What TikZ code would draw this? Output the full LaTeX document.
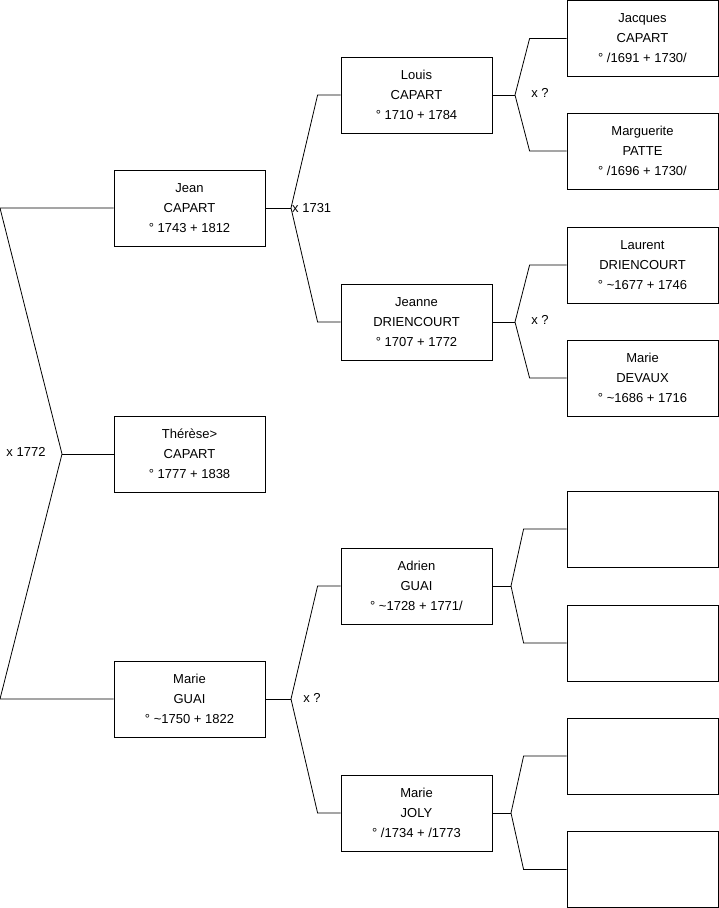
\documentclass[tikz,border=0pt]{standalone}
\usepackage{fontspec}
\setmainfont{Liberation Sans}
\usetikzlibrary{positioning}

\tikzset{
	person/.style={draw, line width=0.8pt, minimum width=151pt, minimum height=76pt, inner sep=0pt, align=center, font=\fontsize{13}{20}\selectfont},
	link/.style={line width=0.8pt},
	mariage/.style={font=\fontsize{13}{15}\selectfont, inner sep=1pt}
}

\begin{document}
\begin{tikzpicture}[x=1pt, y=-1pt]
		\useasboundingbox (0,0) rectangle (719,908);

		% generation 1 et 2
		\draw (189.5,208) node[person] (jean)    {Jean\\CAPART\\° 1743 + 1812};
		\draw (189.5,454) node[person] (therese) {Thérèse>\\CAPART\\° 1777 + 1838};
		\draw (189.5,699) node[person] (marieg)  {Marie\\GUAI\\° \textasciitilde1750 + 1822};

		% generation 3
		\draw (416.5,95)  node[person] (louis)  {Louis\\CAPART\\° 1710 + 1784};
		\draw (416.5,322) node[person] (jeanne) {Jeanne\\DRIENCOURT\\° 1707 + 1772};
		\draw (416.5,586) node[person] (adrien) {Adrien\\GUAI\\° \textasciitilde1728 + 1771/};
		\draw (416.5,813) node[person] (joly)   {Marie\\JOLY\\° /1734 + /1773};

		% generation 4
		\draw (642.5,38.5) node[person] (jacques)    {Jacques\\CAPART\\° /1691 + 1730/};
		\draw (642.5,151)  node[person] (marguerite) {Marguerite\\PATTE\\° /1696 + 1730/};
		\draw (642.5,265)  node[person] (laurent)    {Laurent\\DRIENCOURT\\° \textasciitilde1677 + 1746};
		\draw (642.5,378)  node[person] (devaux)     {Marie\\DEVAUX\\° \textasciitilde1686 + 1716};
		\draw (642.5,529)   node[person] (e1) {};
		\draw (642.5,643)   node[person] (e2) {};
		\draw (642.5,756)   node[person] (e3) {};
		\draw (642.5,869.5) node[person] (e4) {};

		% mariages
		\coordinate (t0) at (0,208);
		\coordinate (b0) at (0,699);
		\coordinate (m0) at (62,454);
		\coordinate (m1) at (291,208);
		\coordinate (m2) at (291,699);
		\coordinate (m3) at (515,95);
		\coordinate (m4) at (515,322);
		\coordinate (m5) at (511,586);
		\coordinate (m6) at (511,813);

		\draw[link] (jean.west) -- (t0) -- (m0) -- (b0) -- (marieg.west);
		\draw[link] (m0) -- (therese.west);
		\draw[link] (jean.east) -- (m1);
		\draw[link] (louis.west) -- ++(-23,0) -- (m1) -- ([xshift=-23]jeanne.west) -- (jeanne.west);
		\draw[link] (marieg.east) -- (m2);
		\draw[link] (adrien.west) -- ++(-23,0) -- (m2) -- ([xshift=-23]joly.west) -- (joly.west);
		\draw[link] (louis.east) -- (m3);
		\draw[link] (jacques.west) -- ++(-37,0) -- (m3) -- ([xshift=-37]marguerite.west) -- (marguerite.west);
		\draw[link] (jeanne.east) -- (m4);
		\draw[link] (laurent.west) -- ++(-37,0) -- (m4) -- ([xshift=-37]devaux.west) -- (devaux.west);
		\draw[link] (adrien.east) -- (m5);
		\draw[link] (e1.west) -- ++(-43,0) -- (m5) -- ([xshift=-43]e2.west) -- (e2.west);
		\draw[link] (joly.east) -- (m6);
		\draw[link] (e3.west) -- ++(-43,0) -- (m6) -- ([xshift=-43]e4.west) -- (e4.west);

		\node[mariage] (x0) at (26,452) {x 1772};
		\node[mariage, right] (x1) at (m1) {x 1731};
		\node[mariage] (x2) at (312,698) {x ?};
		\node[mariage] (x3) at (540,93) {x ?};
		\node[mariage] (x4) at (540,320) {x ?};
\end{tikzpicture}
\end{document}
